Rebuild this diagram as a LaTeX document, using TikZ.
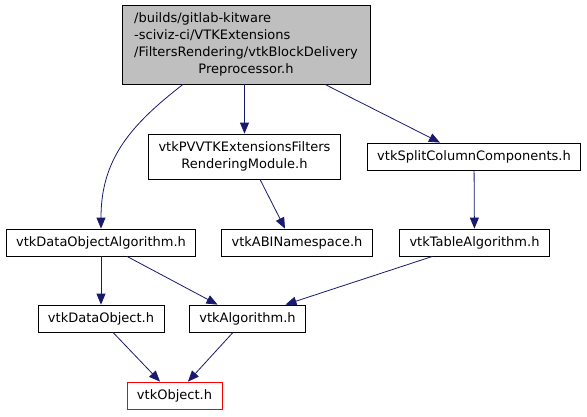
\documentclass[tikz,border=0pt]{standalone}
\usepackage{fontspec}
\setmainfont{DejaVu Sans}
\usetikzlibrary{arrows.meta,positioning}
\definecolor{edgeblue}{HTML}{191970}
\begin{document}
\begin{tikzpicture}[x=1pt,y=-1pt,
  font=\fontsize{13}{17}\selectfont,
  box/.style={draw=black, line width=0.8pt, fill=white, inner xsep=10pt, inner ysep=3pt, minimum height=27pt, align=center},
  hdr/.style={box, fill=black!25, minimum width=248pt, minimum height=79pt},
  trunc/.style={box, draw=red},
  arr/.style={-{Triangle[length=11pt,width=9pt]}, edgeblue, line width=0.8pt}]
\useasboundingbox[fill=white] (0,0) rectangle (587,416);
\node[hdr] (blk) at (246,44.5) {\begin{tabular}{@{}l@{}}/builds/gitlab-kitware\\-sciviz-ci/VTKExtensions\\/FiltersRendering/vtkBlockDelivery\\\multicolumn{1}{@{}c@{}}{Preprocessor.h}\end{tabular}};
\node[box, minimum height=45pt] (pvm) at (244.5,156.5) {vtkPVVTKExtensionsFilters\\RenderingModule.h};
\node[box] (split) at (474,156.5) {vtkSplitColumnComponents.h};
\node[box] (doa) at (101,242.5) {vtkDataObjectAlgorithm.h};
\node[box] (abi) at (297,242.5) {vtkABINamespace.h};
\node[box] (tab) at (474.5,242.5) {vtkTableAlgorithm.h};
\node[box] (dobj) at (101,318.5) {vtkDataObject.h};
\node[box] (alg) at (247.5,318.5) {vtkAlgorithm.h};
\node[trunc] (obj) at (174.5,395.5) {vtkObject.h};
\draw[arr] ([xshift=-63pt]blk.south) .. controls +(-53,41) and +(0,-69) .. (doa.north);
\draw[arr] (blk.south -| pvm.north) -- (pvm.north);
\draw[arr] ([xshift=79pt]blk.south) -- ([xshift=-34pt]split.north);
\draw[arr] ([xshift=15.5pt]pvm.south) -- ([xshift=-12pt]abi.north);
\draw[arr] (split) -- (tab);
\draw[arr] (doa) -- (dobj);
\draw[arr] ([xshift=26pt]doa.south) -- ([xshift=-30pt]alg.north);
\draw[arr] ([xshift=-42pt]tab.south) -- ([xshift=38pt]alg.north);
\draw[arr] ([xshift=12pt]dobj.south) -- ([xshift=-14.5pt]obj.north);
\draw[arr] ([xshift=-14.5pt]alg.south) -- ([xshift=13.5pt]obj.north);
\end{tikzpicture}
\end{document}
